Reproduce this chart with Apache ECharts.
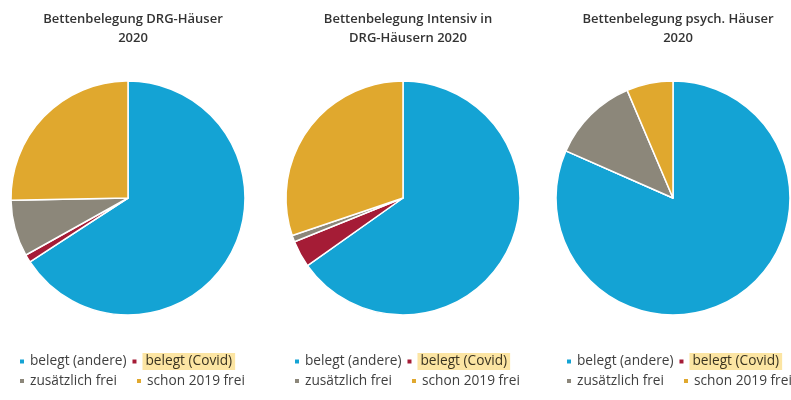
<!DOCTYPE html>
<html>
<head>
<meta charset="utf-8">
<script src="https://cdn.jsdelivr.net/npm/echarts@6/dist/echarts.min.js"></script>
<style>
  html, body { margin: 0; padding: 0; background: #fff; }
  #Chart { width: 791px; height: 400px; }
</style>
</head>
<body>
<div id="Chart"></div>
<script>
// Kategorien und Werte (Anteile in %)
var categories = ['belegt (andere)', 'belegt (Covid)', 'zusätzlich frei', 'schon 2019 frei'];
var colors = ['#14a3d4', '#a51c36', '#8c877a', '#e0a82e'];
var titles = ['Bettenbelegung DRG-Häuser\n2020', 'Bettenbelegung Intensiv in\nDRG-Häusern 2020', 'Bettenbelegung psych. Häuser\n2020'];
var drgValues = [65.8, 1.1, 7.8, 25.3];
var intensivValues = [65.2, 3.7, 0.9, 30.2];
var psychValues = [81.6, 0, 12.0, 6.4];

var allValues = [drgValues, intensivValues, psychValues];
var centersX = [128, 403, 673];
var legendLeft = [18, 293, 565];

var myChart = echarts.init(document.getElementById('Chart'));

var title = [], series = [], legend = [];
for (var i = 0; i < 3; i++) {
    title.push({
        text: titles[i],
        left: centersX[i],
        top: 5,
        textAlign: 'center',
        textStyle: {
            fontFamily: 'Open Sans',
            fontSize: 13,
            fontWeight: 600,
            color: '#333',
            lineHeight: 19
        }
    });
    series.push({
        type: 'pie',
        center: [centersX[i], 198],
        radius: 117,
        startAngle: 90,
        label: { show: false },
        labelLine: { show: false },
        emphasis: { disabled: true },
        itemStyle: { borderColor: '#fff', borderWidth: 1.5 },
        data: categories.map(function (c, k) {
            return { name: c, value: allValues[i][k], itemStyle: { color: colors[k] } };
        })
    });
    // zwei Zeilen Legende pro Diagramm
    legend.push({
        left: legendLeft[i],
        top: 353,
        width: 300,
        padding: 0,
        itemWidth: 6,
        itemHeight: 6,
        itemGap: 4,
        icon: 'rect',
        selectedMode: false,
        textStyle: { fontFamily: 'Open Sans', fontSize: 13.7, color: '#404040' },
        data: [
            { name: categories[0] },
            { name: categories[1], textStyle: { backgroundColor: '#fce5a3', color: '#3a3320', padding: [2, 3, 1, 3] } }
        ]
    });
    legend.push({
        left: legendLeft[i],
        top: 374,
        width: 300,
        padding: 0,
        itemWidth: 6,
        itemHeight: 6,
        itemGap: 18,
        icon: 'rect',
        selectedMode: false,
        textStyle: { fontFamily: 'Open Sans', fontSize: 13.7, color: '#404040' },
        data: [categories[2], categories[3]]
    });
}

var option = {
    animation: false,
    color: colors,
    title: title,
    legend: legend,
    series: series
};
myChart.setOption(option);
</script>
</body>
</html>
